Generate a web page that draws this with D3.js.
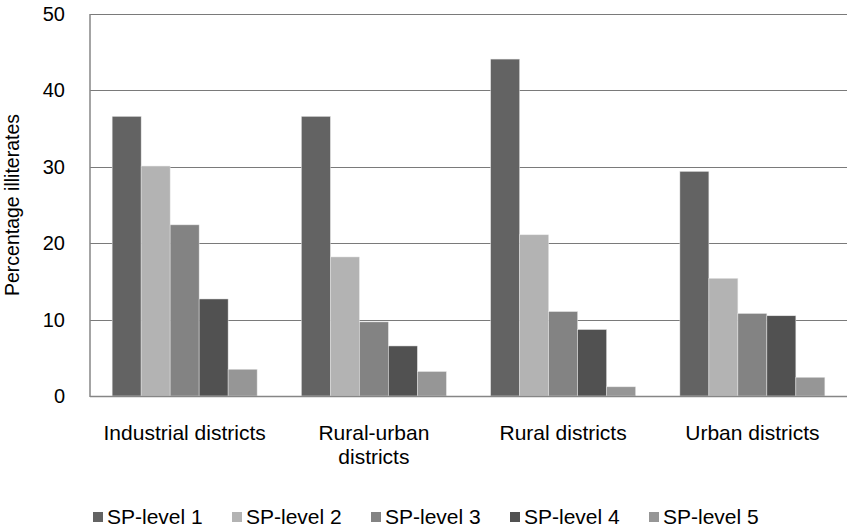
<!DOCTYPE html>
<html lang="en">
<head>
<meta charset="UTF-8">
<title>Percentage illiterates</title>
<script src="https://d3js.org/d3.v7.min.js"></script>
<style>
    body { margin: 0; background: #fff; }
    svg text { font-family: "Liberation Sans", Arial, sans-serif; fill: #000; }
</style>
</head>
<body>
<div id="chart"></div>
<script>
    const categories = ["Industrial districts", "Rural-urban districts", "Rural districts", "Urban districts"];
    const levels = ["SP-level 1", "SP-level 2", "SP-level 3", "SP-level 4", "SP-level 5"];
    const level1 = [36.6, 36.6, 44.1, 29.4];
    const level2 = [30.1, 18.2, 21.1, 15.4];
    const level3 = [22.4, 9.7, 11.05, 10.8];
    const level4 = [12.7, 6.55, 8.7, 10.5];
    const level5 = [3.5, 3.2, 1.2, 2.45];
    const yTicks = [0, 10, 20, 30, 40, 50];

    const series = [level1, level2, level3, level4, level5];
    const colors = ["#636363", "#b3b3b3", "#838383", "#515151", "#969696"];

    const width = 848, height = 527;
    const margin = { top: 14, right: 1, bottom: 131, left: 90 };

    const svg = d3.select("#chart").append("svg")
        .attr("width", width)
        .attr("height", height);

    const x = d3.scaleBand()
        .domain(categories)
        .range([margin.left, width - margin.right])
        .paddingInner(0.234)
        .paddingOuter(0.117);

    const xInner = d3.scaleBand()
        .domain(levels)
        .range([0, x.bandwidth()]);

    const y = d3.scaleLinear()
        .domain([0, 50])
        .range([height - margin.bottom, margin.top]);

    // gridlines
    svg.append("g")
        .selectAll("line")
        .data(yTicks.slice(1))
        .join("line")
        .attr("x1", margin.left)
        .attr("x2", width - margin.right)
        .attr("y1", d => Math.round(y(d)) + 0.5)
        .attr("y2", d => Math.round(y(d)) + 0.5)
        .attr("stroke", "#7a7a7a")
        .attr("stroke-width", 1);

    // bars
    const groups = svg.append("g")
        .selectAll("g")
        .data(categories)
        .join("g")
        .attr("transform", d => `translate(${x(d)},0)`);

    groups.selectAll("rect")
        .data((c, i) => series.map((s, j) => ({ level: levels[j], value: s[i], color: colors[j] })))
        .join("rect")
        .attr("x", d => xInner(d.level))
        .attr("width", xInner.bandwidth())
        .attr("y", d => y(d.value))
        .attr("height", d => y(0) - y(d.value))
        .attr("fill", d => d.color)
        .attr("stroke", "#e6e6e6")
        .attr("stroke-width", 0.5);

    // axes lines
    svg.append("line")
        .attr("x1", margin.left).attr("x2", margin.left)
        .attr("y1", y(50)).attr("y2", y(0) + 1)
        .attr("stroke", "#868686").attr("stroke-width", 1.5);
    svg.append("line")
        .attr("x1", margin.left).attr("x2", width - margin.right)
        .attr("y1", y(0) + 0.5).attr("y2", y(0) + 0.5)
        .attr("stroke", "#868686").attr("stroke-width", 1.5);

    // y tick labels
    svg.append("g")
        .selectAll("text")
        .data(yTicks)
        .join("text")
        .attr("x", 65)
        .attr("y", d => y(d))
        .attr("dy", "0.35em")
        .attr("text-anchor", "end")
        .style("font-size", "20px")
        .text(d => d);

    // y title
    svg.append("text")
        .attr("transform", `translate(19,${(y(0) + y(50)) / 2}) rotate(-90)`)
        .attr("text-anchor", "middle")
        .style("font-size", "19.5px")
        .text("Percentage illiterates");

    // x labels, wrapped when wider than the band
    svg.append("g")
        .selectAll("text")
        .data(categories)
        .join("text")
        .attr("x", d => x(d) + x.bandwidth() / 2)
        .attr("y", 440)
        .attr("text-anchor", "middle")
        .style("font-size", "21px")
        .text(d => d)
        .call(wrap, 175);

    function wrap(text, maxWidth) {
        text.each(function() {
            const t = d3.select(this);
            const words = t.text().split(/\s+/).reverse();
            const cx = t.attr("x");
            let line = [], word;
            let tspan = t.text(null).append("tspan").attr("x", cx).attr("dy", 0);
            while (word = words.pop()) {
                line.push(word);
                tspan.text(line.join(" "));
                if (tspan.node().getComputedTextLength() > maxWidth && line.length > 1) {
                    line.pop();
                    tspan.text(line.join(" "));
                    line = [word];
                    tspan = t.append("tspan").attr("x", cx).attr("dy", "1.12em").text(word);
                }
            }
        });
    }

    // legend
    const legend = svg.append("g")
        .selectAll("g")
        .data(levels)
        .join("g")
        .attr("transform", (d, i) => `translate(${93 + i * 139},512)`);

    legend.append("rect")
        .attr("width", 10)
        .attr("height", 10)
        .attr("fill", (d, i) => colors[i]);

    legend.append("text")
        .attr("x", 14)
        .attr("y", 12)
        .style("font-size", "21px")
        .text(d => d);
</script>
</body>
</html>
